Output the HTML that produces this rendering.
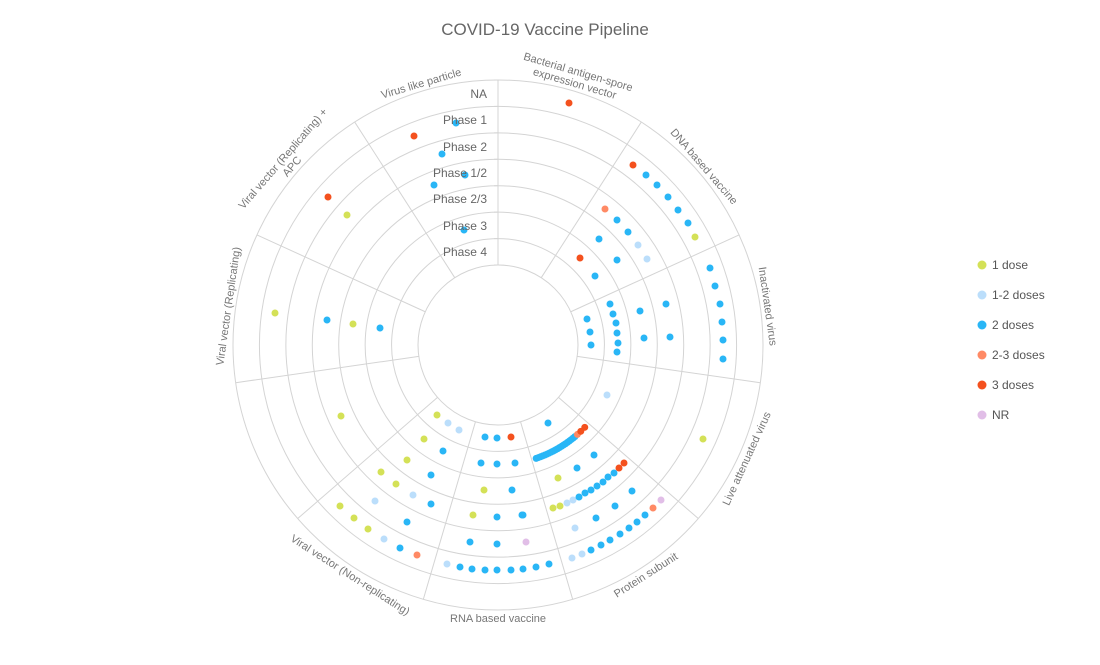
<!DOCTYPE html>
<html><head><meta charset="utf-8"><style>
html,body{margin:0;padding:0;background:#fff;}
svg{display:block;font-family:"Liberation Sans",sans-serif;}
</style></head><body>
<svg id="s" width="1100" height="665" viewBox="0 0 1100 665" xmlns="http://www.w3.org/2000/svg">
<text x="545" y="35" text-anchor="middle" font-size="17" fill="#666">COVID-19 Vaccine Pipeline</text>
<g id="grid" fill="none" stroke="#d4d4d4" stroke-width="1"></g>
<g id="ang" font-size="11" fill="#777" text-anchor="middle"></g>
<g id="dots"></g>
<g font-size="12" fill="#666" text-anchor="end">
<text x="487" y="98">NA</text>
<text x="487" y="124">Phase 1</text>
<text x="487" y="151">Phase 2</text>
<text x="487" y="177">Phase 1/2</text>
<text x="487" y="203">Phase 2/3</text>
<text x="487" y="230">Phase 3</text>
<text x="487" y="256">Phase 4</text>
</g>
<g font-size="12" fill="#555">
<circle cx="982" cy="265" r="4.5" fill="#d4e157"/><text x="992" y="269">1 dose</text>
<circle cx="982" cy="295" r="4.5" fill="#bbdefb"/><text x="992" y="299">1-2 doses</text>
<circle cx="982" cy="325" r="4.5" fill="#29b6f6"/><text x="992" y="329">2 doses</text>
<circle cx="982" cy="355" r="4.5" fill="#ff8a65"/><text x="992" y="359">2-3 doses</text>
<circle cx="982" cy="385" r="4.5" fill="#f4511e"/><text x="992" y="389">3 doses</text>
<circle cx="982" cy="415" r="4.5" fill="#e1bee7"/><text x="992" y="419">NR</text>
</g>
</svg>
<script>
var NS="http://www.w3.org/2000/svg",cx=498,cy=345;
function el(t,a,p,txt){var e=document.createElementNS(NS,t);for(var k in a)e.setAttribute(k,a[k]);if(txt)e.textContent=txt;p.appendChild(e);return e;}
var g=document.getElementById('grid');
for(var i=0;i<8;i++){el('circle',{cx:cx,cy:cy,r:80+i*26.43},g);}
var step=360/11;
for(var k=0;k<11;k++){var a=k*step*Math.PI/180;
el('line',{x1:cx+80*Math.sin(a),y1:cy-80*Math.cos(a),x2:cx+265*Math.sin(a),y2:cy-265*Math.cos(a)},g);}
for(var i=0;i<8;i++){var y=cy-80-i*26.43;el('line',{x1:494,y1:y,x2:498,y2:y},g);}
var labels=[["Bacterial antigen-spore","expression vector"],["DNA based vaccine"],["Inactivated virus"],["Live attenuated virus"],["Protein subunit"],["RNA based vaccine"],["Viral vector (Non-replicating)"],[""],["Viral vector (Replicating)"],["Viral vector (Replicating) +","APC"],["Virus like particle"]];
var ag=document.getElementById('ang');
labels.forEach(function(L,k){var th=step/2+k*step;var flip=th>90&&th<270;var rot=flip?th-180:(th>180?th-360:th);
var gg=el('g',{transform:'translate('+cx+','+cy+') rotate('+rot+')'},ag);
L.forEach(function(t,j){var n=L.length;var y;
if(!flip){y=-269-(n-1-j)*12;}else{y=277+j*12;}
el('text',{x:0,y:y},gg,t);});});
var C={y:"#d4e157",lb:"#bbdefb",b:"#29b6f6",o:"#ff8a65",r:"#f4511e",l:"#e1bee7"};
var D={
y:[[347,215],[275,313],[353,324],[341,416],[437,415],[424,439],[407,460],[381,472],[396,484],[340,506],[354,518],[368,529],[484,490],[473,515],[558,478],[553,508],[560,506],[703,439],[695,237]],
lb:[[638,245],[647,259],[607,395],[448,423],[459,430],[413,495],[375,501],[384,539],[447,564],[567,503],[573,500],[575,528],[582,554],[572,558]],
b:[[456,123],[442,154],[465,175],[434,185],[464,230],[646,175],[657,185],[668,197],[678,210],[688,223],[617,220],[628,232],[599,239],[617,260],[595,276],[710,268],[715,286],[720,304],[722,322],[723,340],[723,359],[666,304],[670,337],[640,311],[644,338],[610,304],[613,314],[616,323],[617,333],[618,343],[617,352],[587,319],[590,332],[591,345],[327,320],[380,328],[548,423],[594,455],[577,468],[579,497],[585,493],[591,490],[597,486],[603,482],[608,477],[614,473],[632,491],[615,506],[596,518],[645,515],[637,522],[629,528],[620,534],[610,540],[601,545],[591,550],[523,515],[549,564],[536,567],[523,569],[485,437],[497,438],[443,451],[481,463],[497,464],[515,463],[431,475],[431,504],[512,490],[497,517],[522,515],[407,522],[400,548],[470,542],[497,544],[460,567],[472,569],[485,570],[497,570],[511,570]],
o:[[605,209],[653,508],[417,555]],
r:[[569,103],[414,136],[328,197],[633,165],[580,258],[511,437],[619,468],[624,463]],
l:[[661,500],[526,542]]};
function pol(th,r){var a=th*Math.PI/180;return [cx+r*Math.sin(a),cy-r*Math.cos(a)];}
for(var i=0;i<20;i++){D.b.push(pol(161.4-i*(21.4/19),119.6));}
D.o.push(pol(138.4,119.6));D.r.push(pol(136.2,119.6));D.r.push(pol(133.5,119.6));
var dg=document.getElementById('dots');
["y","lb","b","o","r","l"].forEach(function(c){D[c].forEach(function(p){el('circle',{cx:p[0],cy:p[1],r:3.5,fill:C[c]},dg);});});
</script>
</body></html>
